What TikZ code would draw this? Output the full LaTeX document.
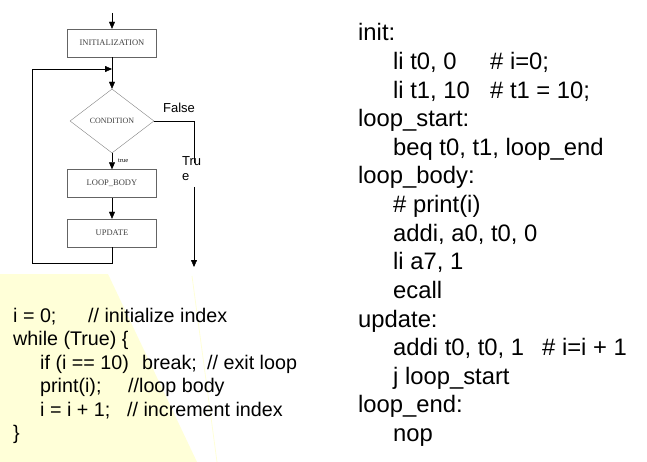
\documentclass[tikz,border=0pt]{standalone}
\usepackage{fontspec}
\setmainfont{Liberation Sans}
\newfontfamily\chartfont{Liberation Serif}
\usetikzlibrary{shapes.geometric,arrows.meta}
\definecolor{codebg}{RGB}{255,255,216}
\definecolor{boxline}{RGB}{100,100,100}
\tikzset{
	flow/.style={draw=black, -{Triangle[width=6pt,length=7pt]}},
	flowbox/.style={rectangle, draw=boxline, minimum width=89pt, minimum height=28pt,
		inner sep=0pt, text=black!75, font=\chartfont\fontsize{8.5}{10}\selectfont},
	decision/.style={diamond, draw=boxline!80, minimum width=84pt, minimum height=64pt,
		inner sep=0pt, aspect=1.3, text=black!75, font=\chartfont\fontsize{8}{10}\selectfont},
	codeL/.style={anchor=base west, inner sep=0pt, font=\fontsize{19.7}{23.6}\selectfont},
	codeR/.style={anchor=base west, inner sep=0pt, font=\fontsize{23.8}{28.6}\selectfont}
}
\begin{document}
\begin{tikzpicture}[x=1pt, y=-1pt]
		\useasboundingbox (0,0) rectangle (647,462);
		% yellow backdrop behind the C code
		\fill[codebg] (0,274) -- (108,274) -- (197,462) -- (0,462) -- cycle;
		\draw[codebg, line width=0.8pt] (192,276) -- (217,462);
		% flowchart
		\node[flowbox] (init)	at (112, 43.0)	{INITIALIZATION};
		\node[decision] (cond)	at (112,121.0)	{CONDITION};
		\node[flowbox] (body)	at (112,183.5)	{LOOP\_BODY};
		\node[flowbox] (update)	at (112,233.0)	{UPDATE};
		\coordinate (start)	at (112, 13);
		\coordinate (join)	at (112, 69);
		\coordinate (backbot)	at (112,263);
		\coordinate (backleft)	at ( 32,263);
		\coordinate (backtop)	at ( 32, 69);
		\coordinate (fcorner)	at (194,121);
		\coordinate (gaptop)	at (194,163);
		\coordinate (gapbot)	at (194,187);
		\coordinate (exit)	at (194,267);
		\draw[flow] (start) -- (init);
		\draw[flow] (init) -- (cond);
		\draw[flow] (cond) -- (body);
		\node[anchor=base west, inner sep=0pt, font=\chartfont\fontsize{6.5}{7}\selectfont] (truesmall) at (118,163) {true};
		\draw[flow] (body) -- (update);
		\draw[flow] (update) -- (backbot) -- (backleft) -- (backtop) -- (join);
		\draw (cond.east) -- (fcorner) -- (gaptop);
		\draw[flow] (gapbot) -- (exit);
		\node[anchor=base, inner sep=0pt, font=\fontsize{13}{15}\selectfont] (falselbl) at (179,113) {False};
		\node[anchor=base west, align=left, inner sep=0pt, font=\fontsize{13}{15}\selectfont] (truelbl) at (182,181) {Tru\\e};
		% C code
		\node[codeL] (c1) at ( 13,322.0) {\makebox[75pt][l]{i = 0;}// initialize index};
		\node[codeL] (c2) at ( 13,345.5) {while (True) \{};
		\node[codeL] (c3) at ( 40,369.0) {\makebox[102pt][l]{if (i == 10)}\makebox[65pt][l]{break;}// exit loop};
		\node[codeL] (c4) at ( 40,392.5) {\makebox[88pt][l]{print(i);}//loop body};
		\node[codeL] (c5) at ( 40,416.0) {\makebox[87pt][l]{i = i + 1;}// increment index};
		\node[codeL] (c6) at ( 13,439.5) {\}};
		% assembly
		\node[codeR] (a1)  at (358, 41.0) {init:};
		\node[codeR] (a2)  at (393, 69.6) {\makebox[97pt][l]{li t0, 0}\# i=0;};
		\node[codeR] (a3)  at (393, 98.2) {\makebox[97pt][l]{li t1, 10}\# t1 = 10;};
		\node[codeR] (a4)  at (358,126.8) {loop\_start:};
		\node[codeR] (a5)  at (393,155.4) {beq t0, t1, loop\_end};
		\node[codeR] (a6)  at (358,184.0) {loop\_body:};
		\node[codeR] (a7)  at (393,212.6) {\# print(i)};
		\node[codeR] (a8)  at (393,241.2) {addi, a0, t0, 0};
		\node[codeR] (a9)  at (393,269.8) {li a7, 1};
		\node[codeR] (a10) at (393,298.4) {ecall};
		\node[codeR] (a11) at (358,327.0) {update:};
		\node[codeR] (a12) at (393,355.6) {\makebox[149pt][l]{addi t0, t0, 1}\# i=i + 1};
		\node[codeR] (a13) at (393,384.2) {j loop\_start};
		\node[codeR] (a14) at (358,412.8) {loop\_end:};
		\node[codeR] (a15) at (393,441.4) {nop};
	\end{tikzpicture}
\end{document}
